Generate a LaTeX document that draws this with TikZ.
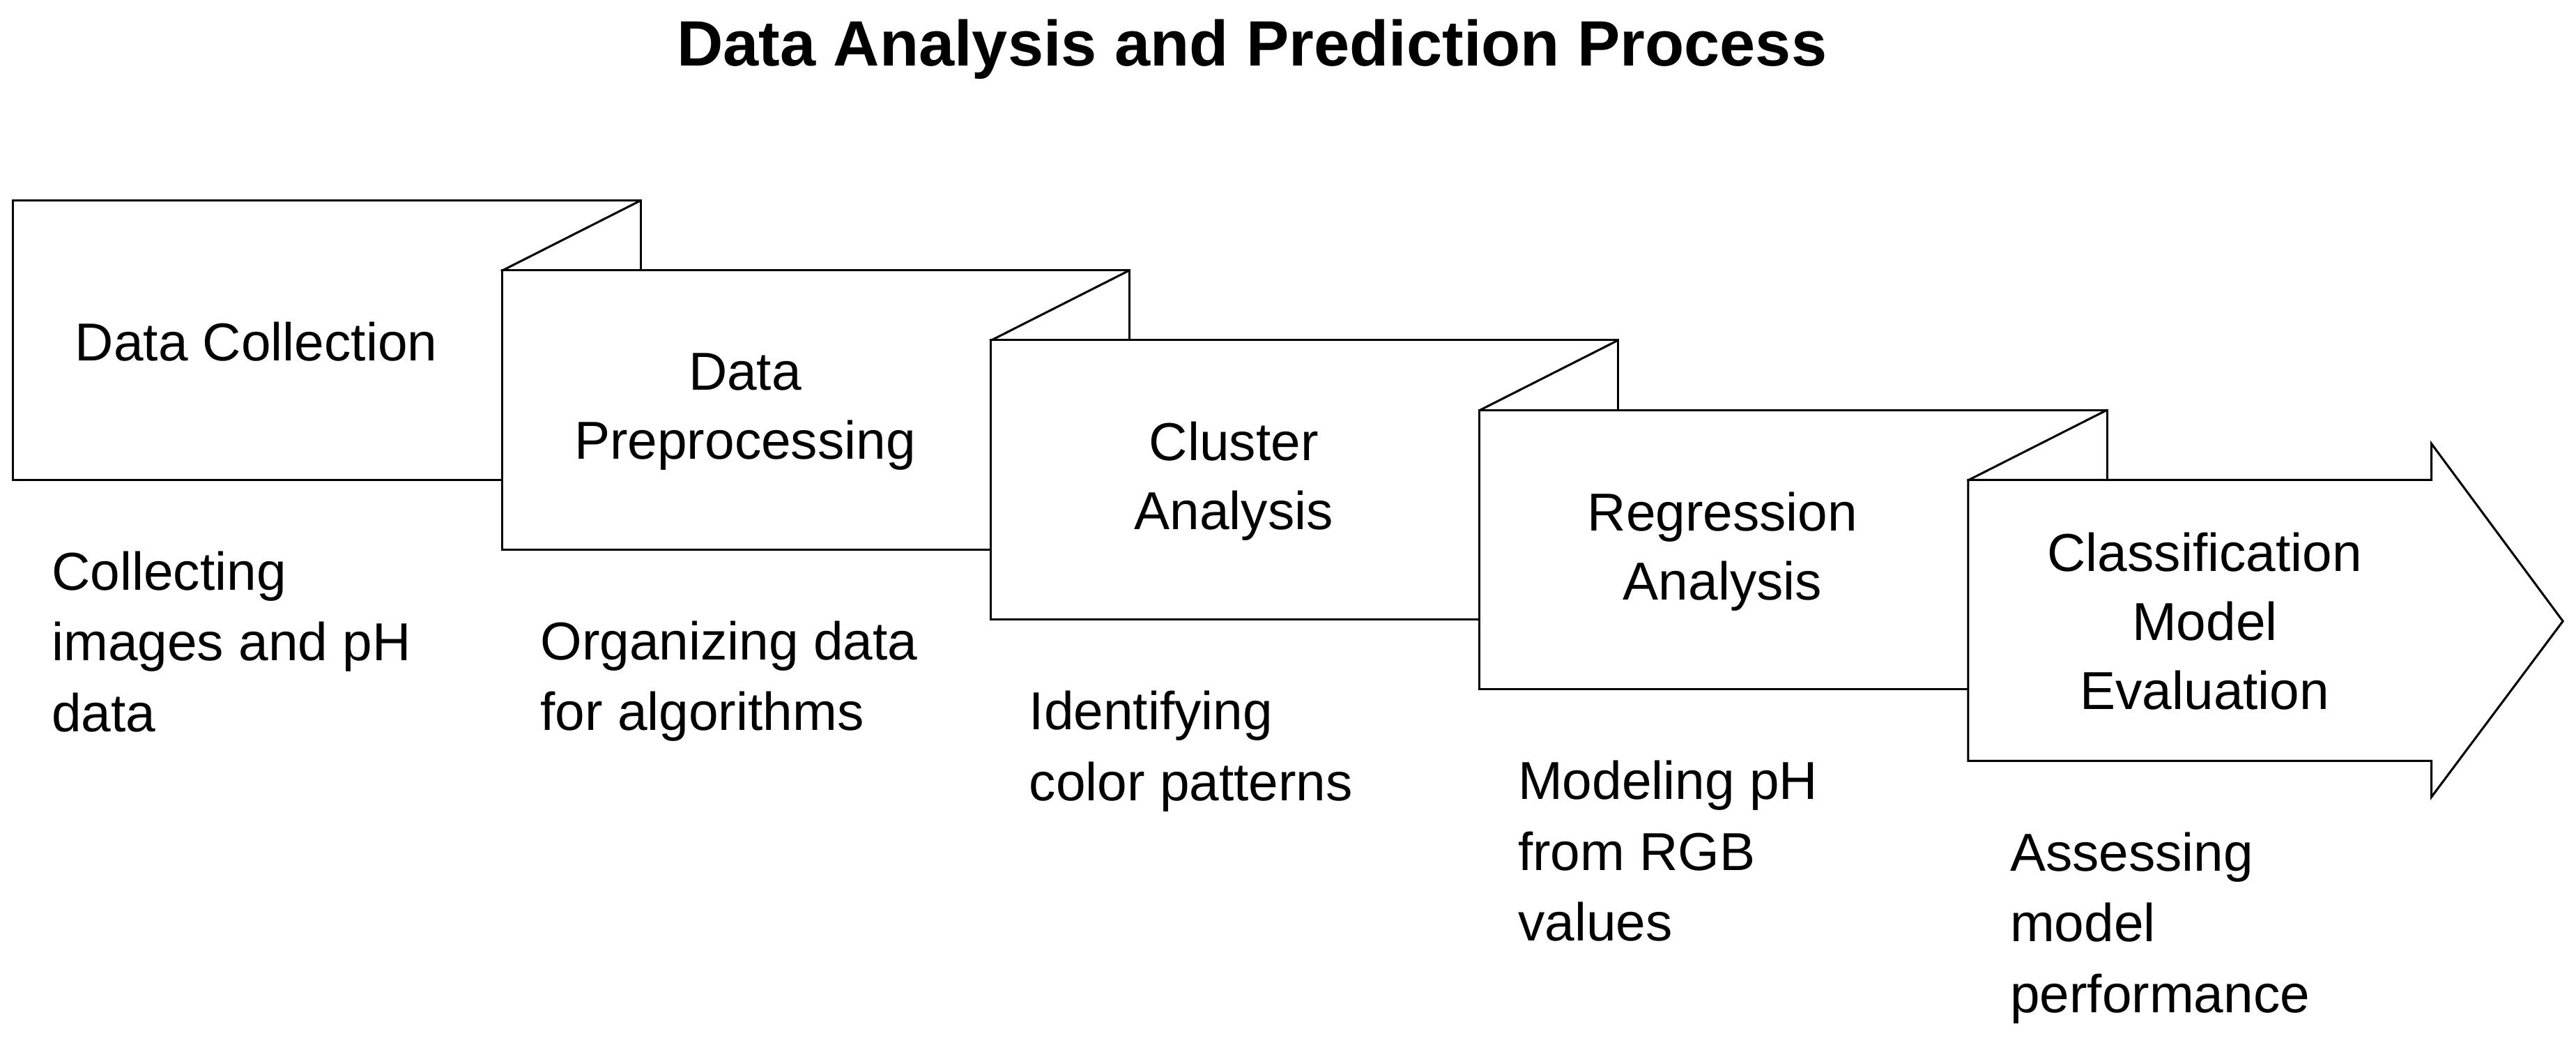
\documentclass[tikz,border=0pt]{standalone}
\usepackage{fontspec}
\setmainfont{Liberation Sans}
\usetikzlibrary{positioning}

\begin{document}
\begin{tikzpicture}
    [x=1pt,y=-1pt,
    panel/.style={draw=black, line width=1.3pt, fill=white},
    stage/.style={align=center, font=\fontsize{32.5}{42}\selectfont},
    desc/.style={align=left, anchor=north west, font=\fontsize{32.5}{43}\selectfont},
    title/.style={font=\fontsize{39}{46}\selectfont\bfseries}]

    \useasboundingbox (0,0) rectangle (1568,640);

    \node [title] (title) at (762,30) {Data Analysis and Prediction Process};

    % folded panels
    \foreach \i/\name/\txt/\info in {
        0/collect/{Data Collection}/{Collecting\\images and pH\\data},
        1/prep/{Data\\Preprocessing}/{Organizing data\\for algorithms},
        2/cluster/{Cluster\\Analysis}/{Identifying\\color patterns},
        3/regress/{Regression\\Analysis}/{Modeling pH\\from RGB\\values}}
    {
        \pgfmathsetmacro{\x}{8+297.5*\i}
        \pgfmathsetmacro{\y}{122+42.5*\i}
        \path [panel] (\x,\y) rectangle ++(382,170);
        \draw [line width=1.3pt] (\x+297,\y+43) -- (\x+382,\y);
        \node [stage] (\name) at (\x+148,\y+86) {\txt};
        \node [desc] (\name_info) at (\x+20,\y+210) {\info};
    }

    % final arrow panel
    \path [panel] (1198,292) -- (1480,292) -- (1480,270) -- (1560,378)
        -- (1480,485) -- (1480,463) -- (1198,463) -- cycle;
    \node [stage] (classify) at (1342,378) {Classification\\Model\\Evaluation};
    \node [desc] (classify_info) at (1220,503) {Assessing\\model\\performance};
\end{tikzpicture}
\end{document}
